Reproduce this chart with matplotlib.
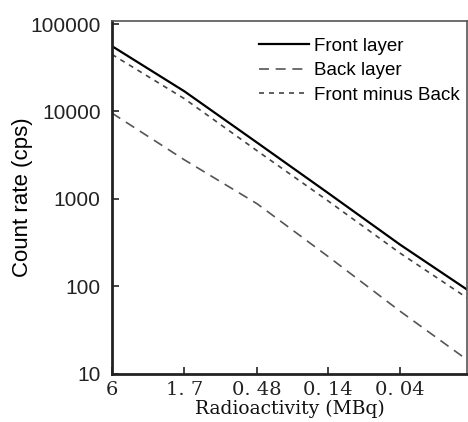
import numpy as np
import matplotlib
matplotlib.use("Agg")
import matplotlib.pyplot as plt

# Hoạt độ phóng xạ (MBq) tại các điểm đo, giảm dần theo thời gian
hoat_do = [6, 1.7, 0.48, 0.14, 0.04, 0.0125]

# Tốc độ đếm (cps) của từng lớp
front_layer = [56000, 17000, 4400, 1170, 300, 92]
back_layer = [9600, 2800, 880, 220, 52, 14.5]
front_minus_back = [45000, 14000, 3550, 950, 240, 74]

# Nhãn trục x
tick_vals = [6, 1.7, 0.48, 0.14, 0.04]
tick_text = ["6", "1. 7", "0. 48", "0. 14", "0. 04"]

fig = plt.figure(figsize=(4.68, 4.22), dpi=100)
ax = fig.add_axes([0.239, 0.114, 0.759, 0.836])

ax.plot(hoat_do, front_layer, color="black", lw=1.6, label="Front layer")
ax.plot(hoat_do, back_layer, color="#555555", lw=1.2, ls=(0, (6, 4)), label="Back layer")
ax.plot(hoat_do, front_minus_back, color="#444444", lw=1.2, ls=(0, (3, 3)),
        label="Front minus Back")

ax.set_xscale("log")
ax.set_yscale("log")
ax.set_xlim(6, 0.0125)
ax.set_ylim(10, 1.08e5)

ax.set_xticks(tick_vals)
ax.set_xticklabels(tick_text, family="DejaVu Serif", fontsize=14, color="#111111")
ax.xaxis.set_minor_locator(matplotlib.ticker.NullLocator())
ax.set_yticks([10, 100, 1000, 10000, 100000])
ax.set_yticklabels(["10", "100", "1000", "10000", "100000"], family="Liberation Sans",
                   fontsize=15)
ax.yaxis.set_minor_locator(matplotlib.ticker.NullLocator())
ax.tick_params(direction="in", length=5, width=1.2, colors="#222222")
ax.tick_params(axis="y", pad=8)
ax.tick_params(axis="x", pad=5)

for s in ["left", "bottom"]:
    ax.spines[s].set_linewidth(2)
    ax.spines[s].set_color("#222222")
for s in ["top", "right"]:
    ax.spines[s].set_linewidth(1.2)
    ax.spines[s].set_color("#555555")

ax.set_xlabel("Radioactivity (MBq)", family="DejaVu Serif", fontsize=13.5,
              color="#111111", labelpad=1)
ax.set_ylabel("Count rate (cps)", family="Liberation Sans", fontsize=16, labelpad=-2)

ax.legend(loc="upper right", frameon=False, prop={"family": "Liberation Sans", "size": 13.5},
          handlelength=2.7, handletextpad=0.25, labelspacing=0.4,
          borderaxespad=0, bbox_to_anchor=(1.0, 0.975))

fig.savefig("out.png", dpi=100)
